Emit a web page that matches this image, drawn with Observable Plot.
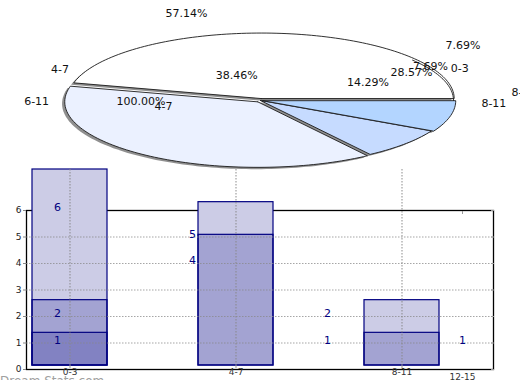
<!DOCTYPE html>
<html>
<head>
<meta charset="utf-8">
<script src="https://cdn.jsdelivr.net/npm/d3@7"></script>
<script src="https://cdn.jsdelivr.net/npm/@observablehq/plot@0.6"></script>
<style>
html, body { margin: 0; padding: 0; background: #fff; }
#chart { position: relative; width: 520px; height: 380px; overflow: hidden; background: #fff; font-family: "DejaVu Sans", sans-serif; }
#chart svg { position: absolute; left: 0; top: 0; }
#wm { position: absolute; left: 0; top: 374px; font: 12px "DejaVu Sans", sans-serif; color: #a0a0a0; white-space: nowrap; }
</style>
</head>
<body>
<div id="chart"></div>
<script>
// ---------------- data ----------------
const bins = ["0-3", "4-7", "8-11", "12-15"];
const barsTall = [6, 5, 2, 1];
const barsMid = [2, 4, 1, null];
const barsLow = [1, null, null, null];
const yTicks = [0, 1, 2, 3, 4, 5, 6];

const pieValues = [6, 5, 1, 1];
const pieLabelTexts = ["57.14%", "4-7", "6-11", "100.00%", "4-7", "38.46%", "14.29%", "28.57%", "7.69%", "7.69%", "0-3", "8-11", "8-11"];

// ---------------- layout / style ----------------
const pieColors = ["#ffffff", "#ebf1ff", "#c6dbff", "#b3d5ff"];
const pieExplode = [0.03, 0.025, 0, 0.012];
// label placement: angle (deg, counter-clockwise from 3 o'clock), distance in radii
const labelAngles = [106, 155.7, 180.7, 181.4, 190, 108, 26.2, 28.5, 30.3, 38.5, 25.1, -2.1, 5];
const labelDists = [1.39, 1.14, 1.16, 0.62, 0.51, 0.40, 0.62, 0.89, 1.02, 1.34, 1.14, 1.21, 1.37];
const pie = {cx: 260, cy: 100, rx: 193, ry: 65.5};
const W = 520, H = 390;
const NAVY = "#000080";
const common = {width: W, height: H, style: {background: "transparent", overflow: "visible", fontFamily: "DejaVu Sans, sans-serif"}};

// ---------------- derived rows ----------------
const barRows = [];
[barsTall, barsMid, barsLow].forEach(series => series.forEach((v, i) => { if (v != null) barRows.push({bin: bins[i], value: v}); }));
const topRows = bins.map((b, i) => ({bin: b, value: barsTall[i]}));

// pie geometry in unit-circle coordinates (scales map to ellipse)
const total = d3.sum(pieValues);
let acc = 0;
const arcPts = (a0, a1, ex, ey) => {
  const pts = [];
  const n = Math.max(2, Math.ceil((a1 - a0) / 1.5));
  for (let k = 0; k <= n; k++) {
    const t = (a0 + (a1 - a0) * k / n) * Math.PI / 180;
    pts.push({x: ex + Math.cos(t), y: ey + Math.sin(t)});
  }
  return pts;
};
const slices = pieValues.map((v, i) => {
  const a0 = acc / total * 360; acc += v; const a1 = acc / total * 360;
  const mid = (a0 + a1) / 2 * Math.PI / 180;
  const ex = pieExplode[i] * Math.cos(mid), ey = pieExplode[i] * Math.sin(mid);
  const pts = [{x: ex, y: ey}, ...arcPts(a0, a1, ex, ey), {x: ex, y: ey}];
  return {pts, color: pieColors[i], a0, a1};
});
// outline of the first slice's un-exploded rim on the right (double-line effect)
const rimPts = arcPts(0, 38, 0, 0);
const shadowOffset = {x: -0.014, y: -0.028};
const labelRows = pieLabelTexts.map((t, i) => {
  const a = labelAngles[i] * Math.PI / 180;
  return {text: t, x: labelDists[i] * Math.cos(a), y: labelDists[i] * Math.sin(a)};
});

const chart = document.getElementById("chart");

// ---------- layer 1: frame + y axis ----------
const axesScales = {
  marginLeft: 26, marginRight: 27, marginTop: 210, marginBottom: 21,
  x: {type: "point", domain: bins, range: [56, 463], padding: 0, axis: null},
  y: {domain: [0, 6], axis: null}
};
chart.append(Plot.plot({
  ...common, ...axesScales,
  marks: [
    Plot.frame({stroke: "#000", strokeWidth: 1.3}),
    Plot.axisY({ticks: yTicks, tickFormat: "d", tickSize: 3, tickPadding: 2, fontSize: 9, stroke: "#888", fill: "#222", label: null})
  ]
}));

// ---------- layer 2: bars ----------
chart.append(Plot.plot({
  ...common,
  marginTop: 169, marginBottom: 25, marginLeft: 0, marginRight: 0,
  x: {type: "band", domain: bins, range: [31.5, 605.9], paddingInner: 0.55, paddingOuter: 0, axis: null},
  y: {domain: [0, 6], axis: null},
  marks: [
    Plot.barY(topRows, {x: "bin", y1: 0, y2: "value", fill: "#fff"}),
    Plot.barY(barRows, {x: "bin", y1: 0, y2: "value", fill: NAVY, fillOpacity: 0.2, stroke: NAVY, strokeWidth: 1.2}),
    Plot.gridX({stroke: "#888", strokeOpacity: 0.8, strokeDasharray: "1.5,1.5", strokeWidth: 1.2}),
    Plot.axisX({tickSize: 3, tickPadding: 0, fontSize: 9, stroke: "#999", fill: "#333", label: null})
  ]
}));

// ---------- layer 3: grid + value labels ----------
chart.append(Plot.plot({
  ...common, ...axesScales,
  marks: [
    Plot.gridY({ticks: [1, 2, 3, 4, 5], stroke: "#888", strokeOpacity: 0.75, strokeDasharray: "1.5,1.5", strokeWidth: 1.2}),
    Plot.axisY({anchor: "right", ticks: yTicks, tickSize: -3, tickFormat: () => "", stroke: "#999", label: null}),
    Plot.axisX({anchor: "top", ticks: ["12-15"], tickSize: -3, tickFormat: () => "", stroke: "#999", label: null}),
    Plot.axisX({anchor: "bottom", ticks: ["12-15"], tickSize: 0, tickPadding: 4, fontSize: 9, fill: "#333", label: null}),
    Plot.text(barRows, {x: "bin", y: "value", text: d => String(d.value), fill: NAVY, fontSize: 11, dy: -3})
  ]
}));

// ---------- layer 4: pie ----------
chart.append(Plot.plot({
  ...common,
  x: {domain: [-1, 1], range: [pie.cx - pie.rx, pie.cx + pie.rx], axis: null},
  y: {domain: [-1, 1], range: [pie.cy + pie.ry, pie.cy - pie.ry], axis: null},
  marks: [
    ...slices.map(s => Plot.line(s.pts, {x: d => d.x + shadowOffset.x, y: d => d.y + shadowOffset.y, fill: "#333", fillOpacity: 0.55, stroke: "none"})),
    ...slices.map(s => Plot.line(s.pts, {x: "x", y: "y", fill: s.color, stroke: "#1a1a1a", strokeWidth: 0.9})),
    Plot.line(rimPts, {x: "x", y: "y", stroke: "#1a1a1a", strokeWidth: 0.9}),
    Plot.text(labelRows, {x: "x", y: "y", text: "text", fontSize: 11, fill: "#111"})
  ]
}));

const wm = document.createElement("div");
wm.id = "wm";
wm.textContent = "Dream Stats.com";
chart.append(wm);
</script>
</body>
</html>
